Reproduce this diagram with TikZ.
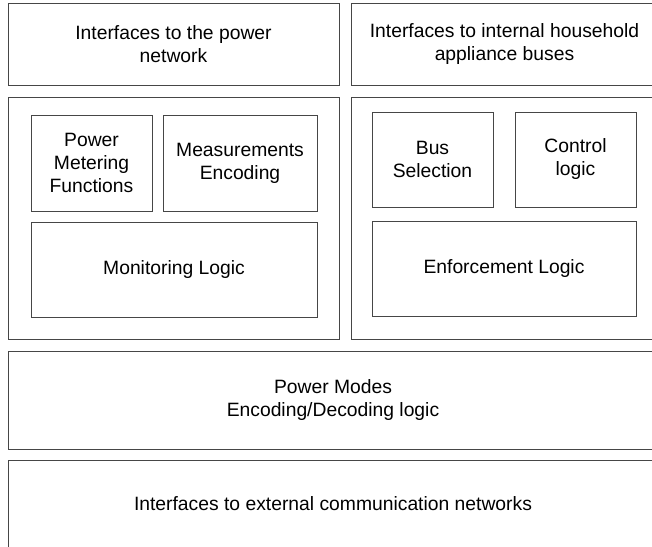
\documentclass[tikz,border=0pt]{standalone}
\usepackage{fontspec}
\setmainfont{Liberation Sans}
\definecolor{edge}{RGB}{70,70,70}
\tikzset{
  blk/.style={draw=edge, line width=0.9pt, anchor=north west, inner sep=0pt, outer sep=0pt,
    align=center, text=black, font=\fontsize{19.3pt}{23pt}\selectfont}
}
\begin{document}
\begin{tikzpicture}[x=1pt,y=-1pt]
\useasboundingbox (0,0) rectangle (652,546);
\clip (0,0) rectangle (652,546);
\fill[white] (0,0) rectangle (652,546);
\node[blk, minimum width=331pt, minimum height=82pt] (tl) at (8,3) {Interfaces to the power\\network};
\node[blk, minimum width=307pt, minimum height=82pt] (tr) at (351,3) {Interfaces to internal household\\appliance buses};
\node[blk, minimum width=331pt, minimum height=242pt] (ml) at (8,97) {};
\node[blk, minimum width=307pt, minimum height=242pt] (mr) at (351,97) {};
\node[blk, minimum width=121pt, minimum height=96pt] (pmf) at (31,115) {Power\\Metering\\Functions};
\node[blk, minimum width=154pt, minimum height=96pt] (me) at (163,115) {Measurements\\Encoding};
\node[blk, minimum width=286pt, minimum height=95pt] (mon) at (31,222) {Monitoring Logic};
\node[blk, minimum width=121pt, minimum height=95pt] (bus) at (372,112) {Bus\\Selection};
\node[blk, minimum width=121pt, minimum height=95pt] (ctl) at (515,112) {Control\\logic};
\node[blk, minimum width=264pt, minimum height=95pt] (enf) at (372,221) {Enforcement Logic};
\node[blk, minimum width=650pt, minimum height=98pt] (pm) at (8,351) {Power Modes\\Encoding/Decoding logic};
\node[blk, minimum width=650pt, minimum height=88pt] (ext) at (8,460) {Interfaces to external communication networks};
\end{tikzpicture}
\end{document}
